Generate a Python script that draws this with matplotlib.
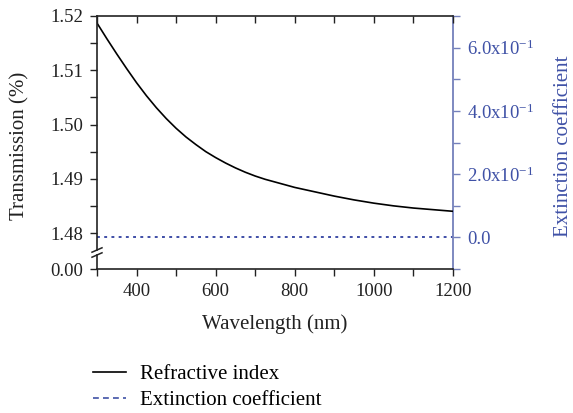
import matplotlib
matplotlib.use('Agg')
import matplotlib.pyplot as plt
from matplotlib.lines import Line2D
from matplotlib.ticker import MultipleLocator, FixedLocator, FixedFormatter

plt.rcParams['font.family'] = ['Liberation Serif', 'DejaVu Serif']
plt.rcParams['mathtext.fontset'] = 'custom'
plt.rcParams['mathtext.rm'] = 'Liberation Serif'
plt.rcParams['mathtext.default'] = 'regular'

# data
wavelength = [300, 325, 350, 375, 400, 425, 450, 475, 500, 525, 550, 575,
              600, 625, 650, 675, 700, 725, 750, 800, 850, 900, 950, 1000,
              1050, 1100, 1150, 1200]
refractive_index = [1.5187, 1.5158, 1.5130, 1.5103, 1.5077, 1.5053, 1.5031,
                    1.5011, 1.4993, 1.4977, 1.4963, 1.4950, 1.4939, 1.4929,
                    1.4920, 1.4912, 1.4905, 1.4899, 1.4894, 1.4884, 1.4876,
                    1.4868, 1.4861, 1.4855, 1.4850, 1.4846, 1.4843, 1.4840]
extinction_coeff = [0.0, 0.0, 0.0, 0.0, 0.0, 0.0, 0.0, 0.0, 0.0, 0.0,
                    0.0, 0.0, 0.0, 0.0, 0.0, 0.0, 0.0, 0.0, 0.0, 0.0,
                    0.0, 0.0, 0.0, 0.0, 0.0, 0.0, 0.0, 0.0]

left_ticks = [1.48, 1.49, 1.50, 1.51, 1.52]
right_ticks = [0.0, 0.2, 0.4, 0.6]
right_labels = ['0.0', '2.0x10$^{-1}$', '4.0x10$^{-1}$', '6.0x10$^{-1}$']
x_ticks = [400, 600, 800, 1000, 1200]

BLUE_TXT = '#3f51a6'
BLUE_SPINE = '#7480bb'
BLUE_LINE = '#3040a0'
DARK = '#222222'
FS_TICK = 13.5
FS_LAB = 15

W, H = 573, 413
L, R, T, B = 97, 453, 16, 269
BRK_TOP, BRK_BOT = 250, 255
px_per_unit = 54.25 / 0.01


def rect(top, bottom):
    return [L / W, 1 - bottom / H, (R - L) / W, (bottom - top) / H]


fig = plt.figure(figsize=(W / 100, H / 100), dpi=100)

# right axis (extinction coefficient), full height
ax_r = fig.add_axes(rect(T, B))
ax_r.patch.set_alpha(0)
ax_r.plot(wavelength, extinction_coeff, color=BLUE_LINE, lw=1.3,
          ls=(0, (1.6, 2.4)))
ax_r.set_xlim(300, 1200)
ax_r.set_ylim(-0.1, 0.7)
for s in ['left', 'top', 'bottom']:
    ax_r.spines[s].set_visible(False)
ax_r.spines['right'].set_color(BLUE_SPINE)
ax_r.spines['right'].set_linewidth(1.3)
ax_r.yaxis.tick_right()
ax_r.yaxis.set_major_locator(FixedLocator(right_ticks))
ax_r.yaxis.set_major_formatter(FixedFormatter(right_labels))
ax_r.yaxis.set_minor_locator(MultipleLocator(0.1))
ax_r.tick_params(axis='y', which='both', direction='out', length=5, width=1,
                 colors=BLUE_SPINE, labelcolor=BLUE_TXT, labelsize=FS_TICK, pad=5)
ax_r.tick_params(axis='x', which='both', bottom=False, labelbottom=False)

# upper left axis (refractive index)
ax_top = fig.add_axes(rect(T, BRK_TOP))
ax_top.patch.set_alpha(0)
ax_top.plot(wavelength, refractive_index, color='black', lw=1.2)
ax_top.set_xlim(300, 1200)
ax_top.set_ylim(1.52 - (BRK_TOP - T) / px_per_unit, 1.52)
ax_top.spines['right'].set_visible(False)
ax_top.spines['bottom'].set_visible(False)
ax_top.yaxis.set_major_locator(FixedLocator(left_ticks))
ax_top.yaxis.set_major_formatter(FixedFormatter(['%.2f' % v for v in left_ticks]))
ax_top.yaxis.set_minor_locator(FixedLocator([1.485, 1.495, 1.505, 1.515]))
ax_top.xaxis.tick_top()
ax_top.xaxis.set_major_locator(MultipleLocator(100))
ax_top.tick_params(axis='x', which='both', direction='in', length=5, width=1,
                   labeltop=False, color=DARK)
ax_top.tick_params(axis='y', which='both', direction='out', length=5, width=1,
                   labelsize=FS_TICK, pad=5, color=DARK, labelcolor=DARK)

# lower left axis stub (0.00)
ax_bot = fig.add_axes(rect(BRK_BOT, B))
ax_bot.patch.set_alpha(0)
ax_bot.set_xlim(300, 1200)
ax_bot.set_ylim(0, (B - BRK_BOT) / px_per_unit)
ax_bot.spines['right'].set_visible(False)
ax_bot.spines['top'].set_visible(False)
ax_bot.yaxis.set_major_locator(FixedLocator([0.0]))
ax_bot.yaxis.set_major_formatter(FixedFormatter(['0.00']))
ax_bot.xaxis.set_major_locator(FixedLocator(x_ticks))
ax_bot.xaxis.set_minor_locator(MultipleLocator(100))
ax_bot.tick_params(axis='both', which='both', direction='out', length=5,
                   width=1, labelsize=FS_TICK, pad=5, color=DARK, labelcolor=DARK)
ax_bot.set_xlabel('Wavelength (nm)', fontsize=FS_LAB, color=DARK, labelpad=10)

for sp in list(ax_top.spines.values()) + list(ax_bot.spines.values()):
    sp.set_color(DARK)
    sp.set_linewidth(1.2)

# break marks on the left spine
for ax, yfrac, hpx in [(ax_top, 0.0, BRK_TOP - T), (ax_bot, 1.0, B - BRK_BOT)]:
    dx = 5 / (R - L)
    dy = 2.2 / hpx
    ax.plot([-dx, dx], [yfrac - dy, yfrac + dy], transform=ax.transAxes,
            color=DARK, lw=1.1, clip_on=False)

fig.text(20 / W, 1 - 146 / H, 'Transmission (%)', rotation=90, ha='center',
         va='center', fontsize=FS_LAB, color=DARK)
fig.text(563 / W, 1 - 146 / H, 'Extinction coefficient', rotation=90,
         ha='center', va='center', fontsize=FS_LAB, color=BLUE_TXT)

handles = [Line2D([], [], color='black', lw=1.2),
           Line2D([], [], color=BLUE_TXT, lw=1.2, ls=(0, (3.5, 2.5)))]
fig.legend(handles, ['Refractive index', 'Extinction coefficient'],
           loc='upper left', bbox_to_anchor=(76 / W, 1 - 348 / H),
           frameon=False, fontsize=FS_LAB, handlelength=1.6,
           handletextpad=0.65, labelspacing=0.3, borderpad=0.3)

fig.savefig('out.png', dpi=100)
